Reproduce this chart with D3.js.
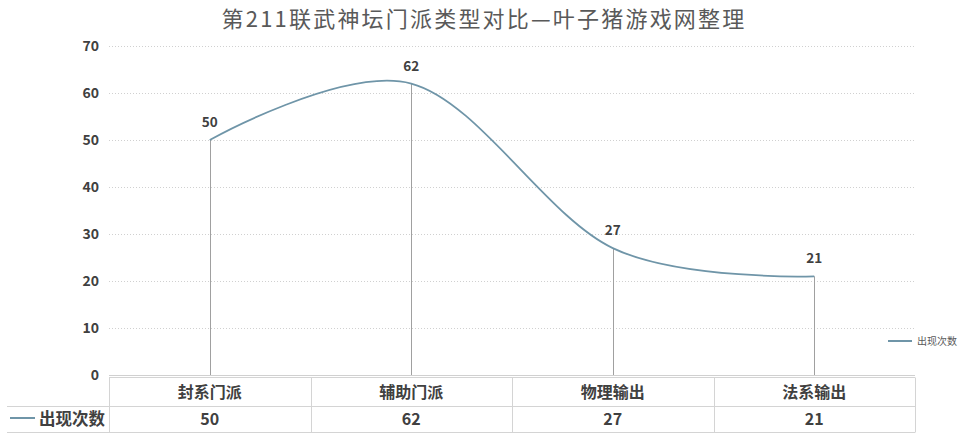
<!DOCTYPE html>
<html><head><meta charset="utf-8">
<script src="https://cdn.jsdelivr.net/npm/d3@7/dist/d3.min.js"></script>
<style>body{margin:0;background:#fff}svg{display:block}text{font-family:"Noto Sans CJK SC","Noto Sans",sans-serif}</style>
</head><body><svg id="c" width="965" height="443"></svg>
<script>
const title = "第211联武神坛门派类型对比—叶子猪游戏网整理";
const categories = ["封系门派","辅助门派","物理输出","法系输出"];
const seriesName = "出现次数";
const values = [50,62,27,21];
const yTicks = [0,10,20,30,40,50,60,70];

(function(){
const svg = d3.select("#c");
const pLeft = 109, pRight = 915, pTop = 46, pBottom = 375;
const x = d3.scaleBand().domain(categories).range([pLeft,pRight]);
const y = d3.scaleLinear().domain([0,70]).range([pBottom,pTop]);
const lineColor = "#6f95a8", gridColor = "#d0d0d0", txt = "#404040";

svg.append("text").attr("x",484).attr("y",27).attr("text-anchor","middle")
  .attr("font-size",22).attr("letter-spacing",2.2).attr("fill","#595959").text(title);

svg.append("g").selectAll("line").data(yTicks.filter(d=>d>0)).join("line")
  .attr("x1",pLeft).attr("x2",pRight).attr("y1",d=>y(d)+0.5).attr("y2",d=>y(d)+0.5)
  .attr("stroke",gridColor).attr("stroke-dasharray","1,2").attr("stroke-width",1);

const ya = svg.append("g").attr("transform",`translate(${pLeft},0)`)
  .call(d3.axisLeft(y).tickValues(yTicks).tickSize(0).tickPadding(10));
ya.select(".domain").remove();
ya.selectAll("text").attr("font-size",14).attr("font-weight","bold").attr("fill",txt)
  .attr("font-family",'"Noto Sans CJK SC","Noto Sans",sans-serif');

svg.append("line").attr("x1",pLeft).attr("x2",pRight).attr("y1",pBottom+0.5).attr("y2",pBottom+0.5)
  .attr("stroke","#d0d0d0");

const cx = c => x(c)+x.bandwidth()/2;
svg.append("g").selectAll("line").data(categories).join("line")
  .attr("x1",c=>Math.round(cx(c))+0.5).attr("x2",c=>Math.round(cx(c))+0.5)
  .attr("y1",(c,i)=>y(values[i])).attr("y2",pBottom)
  .attr("stroke","#a0a0a0").attr("stroke-width",1);

const line = d3.line().x((d,i)=>cx(categories[i])).y(d=>y(d)).curve(d3.curveCatmullRom.alpha(0));
svg.append("path").datum(values).attr("d",line).attr("fill","none")
  .attr("stroke",lineColor).attr("stroke-width",1.75);

svg.append("g").selectAll("text").data(values).join("text")
  .attr("x",(d,i)=>cx(categories[i])).attr("y",d=>y(d)-13)
  .attr("text-anchor","middle").attr("font-size",13.5).attr("font-weight","bold")
  .attr("fill",txt).text(d=>d);

svg.append("line").attr("x1",888).attr("x2",912).attr("y1",341).attr("y2",341)
  .attr("stroke",lineColor).attr("stroke-width",2);
svg.append("text").attr("x",917).attr("y",345).attr("font-size",10).attr("fill","#595959").text(seriesName);

const tb = svg.append("g");
const tc = "#d4d4d4";
const r0 = 377.5, r1 = 406.5, r2 = 432.5, tl = 7;
tb.append("line").attr("x1",pLeft).attr("x2",pRight).attr("y1",r0).attr("y2",r0).attr("stroke",tc);
tb.append("line").attr("x1",tl).attr("x2",pRight).attr("y1",r1).attr("y2",r1).attr("stroke",tc);
tb.append("line").attr("x1",tl).attr("x2",pRight).attr("y1",r2).attr("y2",r2).attr("stroke",tc);
const edges = [pLeft, ...categories.map(c=>x(c)+x.bandwidth())];
tb.selectAll("line.v").data(edges).join("line").attr("class","v")
  .attr("x1",d=>Math.round(d)+0.5).attr("x2",d=>Math.round(d)+0.5).attr("y1",r0).attr("y2",r2).attr("stroke",tc);
tb.selectAll("text.h").data(categories).join("text").attr("class","h")
  .attr("x",c=>cx(c)).attr("y",398).attr("text-anchor","middle")
  .attr("font-size",16).attr("font-weight","bold").attr("fill",txt).text(c=>c);
tb.selectAll("text.val").data(values).join("text").attr("class","val")
  .attr("x",(d,i)=>cx(categories[i])).attr("y",425).attr("text-anchor","middle")
  .attr("font-size",16).attr("font-weight","bold").attr("fill",txt).text(d=>d);
tb.append("line").attr("x1",10).attr("x2",35).attr("y1",418).attr("y2",418)
  .attr("stroke",lineColor).attr("stroke-width",2);
tb.append("text").attr("x",39).attr("y",425).attr("font-size",16.5).attr("font-weight","bold")
  .attr("fill",txt).text(seriesName);
})();
</script></body></html>
